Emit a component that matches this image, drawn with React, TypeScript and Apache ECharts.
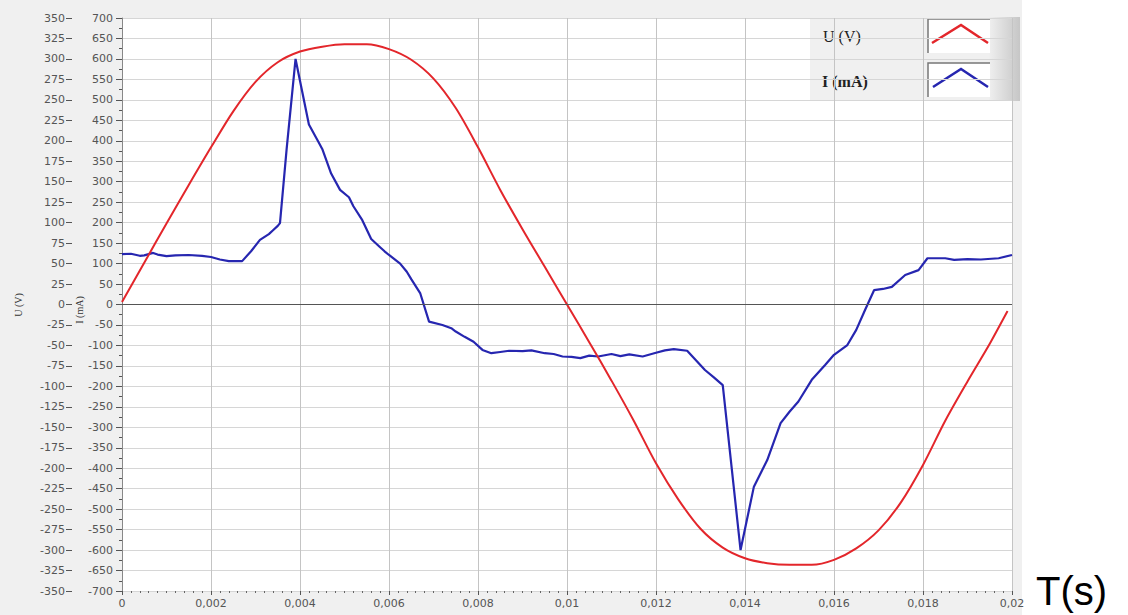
import React, { useEffect, useRef } from "react";
import * as echarts from "echarts";

// Time ticks (s)
const xTicks = [0, 0.002, 0.004, 0.006, 0.008, 0.01, 0.012, 0.014, 0.016, 0.018, 0.02];

// U (V) voltage samples: [t (s), U (V)]
const voltageT = [0, 0.0005, 0.001, 0.0015, 0.002, 0.0025, 0.003, 0.0035, 0.004, 0.0045, 0.005, 0.0055, 0.006, 0.0065, 0.007, 0.0075, 0.008, 0.0085, 0.009, 0.0095, 0.01, 0.0105, 0.011, 0.0115, 0.012, 0.0125, 0.013, 0.0135, 0.014, 0.0145, 0.015, 0.0155, 0.016, 0.0165, 0.017, 0.0175, 0.018, 0.0185, 0.019, 0.0195, 0.0199];
const voltageU = [3, 51, 99, 146, 192, 236, 272, 296, 309, 315, 318, 318, 312, 299, 276, 240, 192, 140, 92, 46, 0, -46, -93, -142, -194, -238, -274, -297, -310, -316, -318, -318, -312, -298, -276, -242, -196, -142, -94, -48, -8];

// I (mA) current samples
const currentT = [0, 0.0002, 0.0004, 0.0005, 0.0007, 0.0008, 0.001, 0.0012, 0.0015, 0.0018, 0.002, 0.0022, 0.0024, 0.0027, 0.0029, 0.0031, 0.0033, 0.0034, 0.0035, 0.00355, 0.0037, 0.0039, 0.00405, 0.0042, 0.0044, 0.0045, 0.0047, 0.0049, 0.0051, 0.0052, 0.0054, 0.0056, 0.0058, 0.0059, 0.006, 0.00625, 0.0064, 0.0065, 0.0067, 0.0069, 0.0072, 0.0074, 0.0075, 0.0077, 0.0079, 0.0081, 0.0083, 0.0085, 0.0087, 0.009, 0.0092, 0.0095, 0.0097, 0.0099, 0.0101, 0.0103, 0.0105, 0.0107, 0.011, 0.0112, 0.0114, 0.0117, 0.012, 0.0122, 0.0124, 0.0127, 0.0131, 0.0133, 0.0135, 0.0139, 0.0142, 0.0145, 0.0148, 0.015, 0.0152, 0.0155, 0.0158, 0.016, 0.0163, 0.0165, 0.0167, 0.0169, 0.0171, 0.0173, 0.0176, 0.0179, 0.0181, 0.0185, 0.0187, 0.019, 0.0193, 0.0197, 0.02];
const currentI = [123, 124, 119, 120, 126, 122, 118, 120, 121, 119, 116, 110, 106, 106, 130, 158, 172, 182, 192, 199, 380, 600, 520, 440, 400, 380, 320, 280, 262, 240, 206, 160, 140, 130, 121, 100, 80, 62, 28, -42, -50, -58, -66, -79, -91, -111, -119, -116, -113, -114, -112, -119, -121, -127, -128, -131, -125, -127, -121, -126, -122, -127, -118, -112, -109, -113, -160, -178, -197, -600, -445, -380, -290, -262, -237, -184, -148, -123, -99, -62, -13, 35, 38, 43, 72, 84, 113, 113, 109, 111, 110, 113, 121];

const seriesNames = ["U (V)", "I (mA)"];
const colors = ["#e3262b", "#2626b0"];

export default function App() {
  const ref = useRef<HTMLDivElement>(null);
  useEffect(() => {
    if (!ref.current) return;
    const chart = echarts.init(ref.current, null, { renderer: "svg" });
    const uData = voltageT.map((t, i) => [t, voltageU[i]]);
    const iData = currentT.map((t, i) => [t, currentI[i]]);
    const fmtX = (v: number) => String(Number(v.toFixed(4))).replace(".", ",");
    chart.setOption({
      animation: false,
      backgroundColor: "#ffffff",
      grid: {
        left: 122,
        right: 116,
        top: 18,
        bottom: 24,
        show: true,
        backgroundColor: "#ffffff",
        borderWidth: 0,
      },
      xAxis: {
        type: "value",
        min: 0,
        max: 0.02,
        interval: 0.002,
        axisLine: { show: false, onZero: false },
        axisTick: { show: true, length: 4, lineStyle: { color: "#555" } },
        minorTick: { show: true, splitNumber: 10, length: 2, lineStyle: { color: "#666" } },
        splitLine: { show: true, lineStyle: { color: "#c4c4c4", width: 1 } },
        axisLabel: {
          formatter: (v: number) => fmtX(v),
          fontSize: 11,
          color: "#555",
          fontFamily: "DejaVu Sans",
          margin: 7,
          customValues: xTicks,
        },
      },
      yAxis: [
        {
          type: "value",
          min: -700,
          max: 700,
          interval: 50,
          position: "left",
          axisLine: { show: true, onZero: false, lineStyle: { color: "#888" } },
          axisTick: { show: true, length: 6, lineStyle: { color: "#555" } },
          minorTick: { show: true, splitNumber: 2, length: 3, lineStyle: { color: "#555" } },
          splitLine: { show: true, lineStyle: { color: "#d6d6d6", width: 1 } },
          axisLabel: { fontSize: 11, color: "#555", fontFamily: "DejaVu Sans", margin: 9 },
        },
        {
          type: "value",
          min: -350,
          max: 350,
          interval: 25,
          position: "left",
          offset: 50,
          axisLine: { show: false, onZero: false },
          axisTick: { show: true, length: 6, lineStyle: { color: "#555" } },
          splitLine: { show: false },
          axisLabel: { fontSize: 11, color: "#555", fontFamily: "DejaVu Sans", margin: 7 },
        },
      ],
      graphic: [
        {
          type: "rect",
          z: -10,
          silent: true,
          shape: { x: 0, y: 0, width: 1022, height: 615 },
          style: { fill: "#f0f0f0" },
        },
        {
          type: "text",
          x: 18,
          y: 305,
          rotation: Math.PI / 2,
          z: 50,
          style: { text: seriesNames[0], font: "10px 'Liberation Serif'", fill: "#333", align: "center", verticalAlign: "middle" },
        },
        {
          type: "text",
          x: 79,
          y: 310,
          rotation: Math.PI / 2,
          z: 50,
          style: { text: seriesNames[1], font: "10px 'Liberation Serif'", fill: "#333", align: "center", verticalAlign: "middle" },
        },
        {
          type: "group",
          z: 100,
          children: [
            {
              type: "rect",
              shape: { x: 810, y: 17, width: 210, height: 84 },
              style: {
                fill: new echarts.graphic.LinearGradient(0, 0, 1, 0, [
                  { offset: 0, color: "#f0f0f0" },
                  { offset: 0.85, color: "#f0f0f0" },
                  { offset: 1, color: "#c6c6c6" },
                ]),
              },
            },
            {
              type: "text",
              style: { x: 823, y: 36, text: seriesNames[0], font: "16px 'Liberation Serif'", fill: "#222", verticalAlign: "middle" },
            },
            {
              type: "text",
              style: { x: 822, y: 81, text: seriesNames[1], font: "bold 16px 'Liberation Serif'", fill: "#222", verticalAlign: "middle" },
            },
            { type: "rect", shape: { x: 928, y: 19, width: 62, height: 34 }, style: { fill: "#ffffff", stroke: null } },
            { type: "polyline", shape: { points: [[928, 53], [928, 19], [990, 19]] }, style: { stroke: "#777", lineWidth: 1.5, fill: null } },
            { type: "rect", shape: { x: 928, y: 63, width: 62, height: 34 }, style: { fill: "#ffffff", stroke: null } },
            { type: "polyline", shape: { points: [[928, 97], [928, 63], [990, 63]] }, style: { stroke: "#777", lineWidth: 1.5, fill: null } },
            { type: "polyline", shape: { points: [[932, 43], [961, 25], [988, 43]] }, style: { stroke: colors[0], lineWidth: 2.5, fill: null } },
            { type: "polyline", shape: { points: [[933, 87], [961, 69], [988, 87]] }, style: { stroke: colors[1], lineWidth: 2.5, fill: null } },
          ],
        },
        {
          type: "text",
          z: 100,
          style: { x: 1036, y: 591, text: "T(s)", font: "40px 'Liberation Sans'", fill: "#000", verticalAlign: "middle" },
        },
      ],
      series: [
        {
          name: seriesNames[1],
          type: "line",
          yAxisIndex: 0,
          data: iData,
          showSymbol: false,
          lineStyle: { color: colors[1], width: 2.2 },
          itemStyle: { color: colors[1] },
          z: 3,
          markLine: {
            silent: true,
            symbol: "none",
            label: { show: false },
            lineStyle: { color: "#555", width: 1, type: "solid" },
            data: [{ yAxis: 0 }],
          },
        },
        {
          name: seriesNames[0],
          type: "line",
          yAxisIndex: 1,
          data: uData,
          showSymbol: false,
          smooth: 0.3,
          lineStyle: { color: colors[0], width: 2 },
          itemStyle: { color: colors[0] },
          z: 4,
        },
      ],
    });
    return () => chart.dispose();
  }, []);
  return (
    <div
      ref={ref}
      style={{ position: "fixed", left: 0, top: 0, width: 1128, height: 615 }}
    />
  );
}
